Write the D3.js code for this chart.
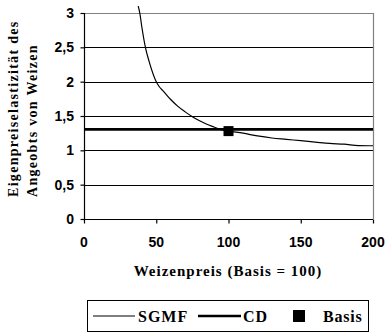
<!DOCTYPE html>
<html>
<head>
<meta charset="utf-8">
<script src="https://cdn.jsdelivr.net/npm/d3@7"></script>
<style>
  body { margin: 0; background: #fff; }
  .tick-label { font-family: "Liberation Sans", Arial, sans-serif; font-weight: bold; font-size: 14px; }
  .title { font-family: "Liberation Serif", "Times New Roman", serif; font-weight: bold; }
</style>
</head>
<body>
<div id="chart"></div>
<script>
// SGMF curve (price index -> own-price elasticity of wheat supply)
const sgmfPrice = [37.5, 38.6, 40, 42.5, 45, 50, 52, 55, 60, 65, 70, 75, 80, 85, 90, 95, 100, 110, 120, 130, 140, 150, 160, 170, 180, 190, 200];
const sgmfElast = [3.1, 3.0, 2.8, 2.5, 2.3, 2.0, 1.93, 1.86, 1.74, 1.64, 1.56, 1.49, 1.43, 1.38, 1.34, 1.3, 1.28, 1.25, 1.21, 1.18, 1.16, 1.14, 1.12, 1.1, 1.09, 1.07, 1.067];
// CD: constant elasticity
const cdPrice = [0, 200];
const cdElast = [1.305, 1.305];
// Basis point
const basisPrice = [100];
const basisElast = [1.28];

const xTicks = [0, 50, 100, 150, 200];
const yTicks = [0, 0.5, 1, 1.5, 2, 2.5, 3];

const width = 387, height = 333;
const margin = {top: 13, left: 84, right: 14, bottom: 114};

const svg = d3.select("#chart").append("svg")
    .attr("width", width)
    .attr("height", height);

const xScale = d3.scaleLinear().domain([0, 200]).range([margin.left, width - margin.right]);
const yScale = d3.scaleLinear().domain([0, 3]).range([height - margin.bottom, margin.top]);

const x0 = xScale(0), x1 = xScale(200), y0 = yScale(0), y1 = yScale(3);

// gridlines
svg.append("g").selectAll("line")
    .data(yTicks.filter(d => d > 0 && d < 3))
    .enter().append("line")
        .attr("x1", x0).attr("x2", x1)
        .attr("y1", d => Math.round(yScale(d)) + 0.5)
        .attr("y2", d => Math.round(yScale(d)) + 0.5)
        .attr("stroke", "#000").attr("stroke-width", 1);

// plot border (top and right, gray)
svg.append("path")
    .attr("d", `M${x0},${Math.round(y1) + 0.5}H${Math.round(x1) + 0.5}V${y0}`)
    .attr("fill", "none").attr("stroke", "#808080").attr("stroke-width", 1.2);

// axes
const xAxis = svg.append("g")
    .attr("transform", `translate(0,${Math.round(y0) + 0.5})`)
    .call(d3.axisBottom(xScale).tickValues(xTicks).tickSize(4).tickFormat(""));
const yAxis = svg.append("g")
    .attr("transform", `translate(${Math.round(x0) + 0.5},0)`)
    .call(d3.axisLeft(yScale).tickValues(yTicks).tickSize(4).tickFormat(""));
svg.selectAll(".domain").attr("stroke", "#000").attr("stroke-width", 1.2);
svg.selectAll(".tick line").attr("stroke", "#000").attr("stroke-width", 1.2);
xAxis.select(".domain").attr("d", `M${x0},0H${x1}`);
yAxis.select(".domain").attr("d", `M0,${y1}V${y0}`);

// tick labels
svg.append("g").selectAll("text")
    .data(xTicks).enter().append("text")
        .attr("class", "tick-label")
        .attr("x", d => xScale(d))
        .attr("y", 247)
        .attr("text-anchor", "middle")
        .text(d => d);

svg.append("g").selectAll("text")
    .data(yTicks).enter().append("text")
        .attr("class", "tick-label")
        .attr("x", 74)
        .attr("y", d => yScale(d) + 5)
        .attr("text-anchor", "end")
        .text(d => String(d).replace(".", ","));

// CD line
svg.append("path")
    .datum(cdPrice.map((p, i) => [p, cdElast[i]]))
    .attr("d", d3.line().x(d => xScale(d[0])).y(d => yScale(d[1])))
    .attr("fill", "none").attr("stroke", "#000").attr("stroke-width", 2.6);

// SGMF curve
svg.append("path")
    .datum(sgmfPrice.map((p, i) => [p, sgmfElast[i]]))
    .attr("d", d3.line().curve(d3.curveMonotoneX).x(d => xScale(d[0])).y(d => yScale(d[1])))
    .attr("fill", "none").attr("stroke", "#000").attr("stroke-width", 1.2);

// Basis marker
svg.append("g").selectAll("rect")
    .data(basisPrice).enter().append("rect")
        .attr("x", (d, i) => xScale(d) - 5)
        .attr("y", (d, i) => yScale(basisElast[i]) - 5)
        .attr("width", 10).attr("height", 10)
        .attr("fill", "#000");

// axis titles
svg.append("text")
    .attr("class", "title")
    .attr("x", 228).attr("y", 276)
    .attr("text-anchor", "middle")
    .style("font-size", "15px").style("letter-spacing", "1px")
    .text("Weizenpreis (Basis = 100)");

const yTitle = ["Eigenpreiselastizität des", "Angeobts von Weizen"];
svg.append("g").selectAll("text")
    .data(yTitle).enter().append("text")
        .attr("class", "title")
        .attr("transform", (d, i) => `translate(${18 + i * 19},197) rotate(-90)`)
        .attr("text-anchor", "start")
        .style("font-size", "14px").style("letter-spacing", "1.3px")
        .text(d => d);

// legend
const legend = svg.append("g");
legend.append("rect")
    .attr("x", 87.5).attr("y", 300.5).attr("width", 281).attr("height", 31)
    .attr("fill", "#fff").attr("stroke", "#000").attr("stroke-width", 1);

const ly = 316;
legend.append("line").attr("x1", 93).attr("x2", 135).attr("y1", ly).attr("y2", ly)
    .attr("stroke", "#000").attr("stroke-width", 1.2);
legend.append("text").attr("class", "title").attr("x", 138).attr("y", 322)
    .style("font-size", "16px").style("letter-spacing", "1px").text("SGMF");
legend.append("line").attr("x1", 198).attr("x2", 241).attr("y1", ly).attr("y2", ly)
    .attr("stroke", "#000").attr("stroke-width", 2.6);
legend.append("text").attr("class", "title").attr("x", 243).attr("y", 322)
    .style("font-size", "16px").style("letter-spacing", "1px").text("CD");
legend.append("rect").attr("x", 293).attr("y", ly - 6).attr("width", 12).attr("height", 12)
    .attr("fill", "#000");
legend.append("text").attr("class", "title").attr("x", 323).attr("y", 322)
    .style("font-size", "16px").style("letter-spacing", "0.8px").text("Basis");
</script>
</body>
</html>
